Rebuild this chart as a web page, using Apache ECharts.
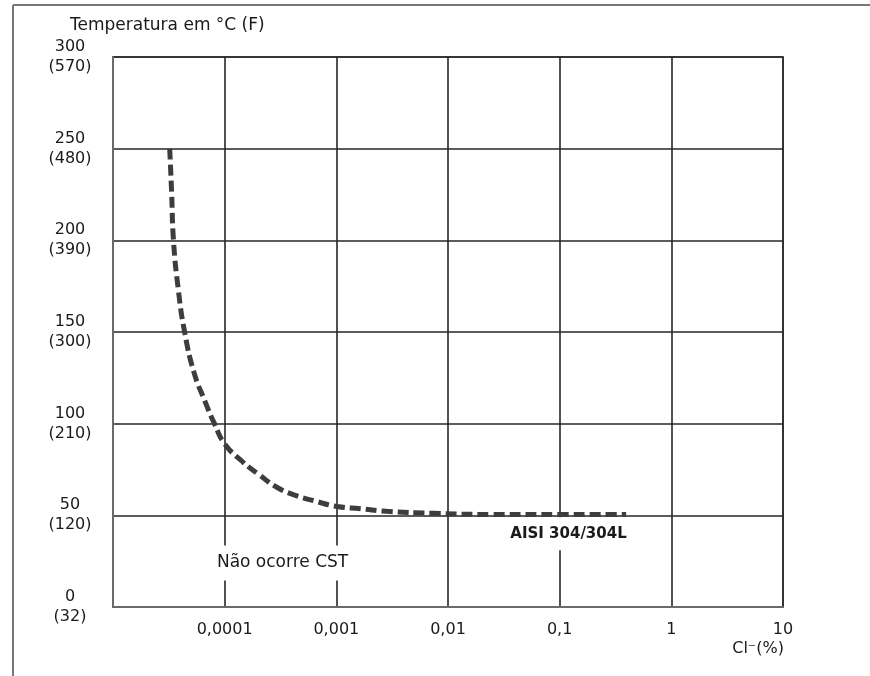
<!DOCTYPE html>
<html lang="pt-BR">
<head>
    <meta charset="UTF-8">
    <title>CST - AISI 304/304L</title>
    <script src="https://cdn.jsdelivr.net/npm/echarts@6/dist/echarts.min.js"></script>
    <style>
        html, body { margin: 0; padding: 0; background: #fff; }
        #main { width: 870px; height: 676px; }
    </style>
</head>
<body>
<div id="main"></div>

<script type="text/javascript">
    // teor de cloreto (%) e temperatura (°C)
    var cloreto = [3.22e-5, 3.35e-5, 3.48e-5, 3.83e-5, 4.38e-5, 5.31e-5, 6.68e-5, 8.1e-5, 1.0e-4,
        1.43e-4, 2.05e-4, 2.88e-4, 4.12e-4, 6.7e-4, 1.02e-3, 1.66e-3, 2.83e-3, 7.4e-3, 0.0248, 0.1, 0.394];
    var temperatura = [250, 226, 200, 174, 150, 128, 112, 100, 89,
        79.5, 72, 65.6, 61.3, 57.5, 54.8, 53.6, 52.2, 51.1, 50.5, 50.5, 50.5];

    var xTickLabels = ['', '0,0001', '0,001', '0,01', '0,1', '1', '10'];
    var yTickLabels = ['0\n(32)', '50\n(120)', '100\n(210)', '150\n(300)', '200\n(390)', '250\n(480)', '300\n(570)'];

    var fonte = 'DejaVu Sans';
    var myChart = echarts.init(document.getElementById('main'));

    var pontos = cloreto.map(function (c, i) { return [c, temperatura[i]]; });

    var option = {
        animation: false,
        backgroundColor: '#fff',
        title: [
            {
                text: 'Temperatura em °C (F)',
                left: 70, top: 17, padding: 0,
                textStyle: {fontFamily: fonte, fontSize: 17, fontWeight: 'normal', color: '#1a1a1a'}
            },
            {
                text: 'Cl⁻(%)',
                right: 86, top: 641, padding: 0,
                textStyle: {fontFamily: fonte, fontSize: 16, fontWeight: 'normal', color: '#1a1a1a'}
            }
        ],
        graphic: [
            {type: 'line', shape: {x1: 13, y1: 5, x2: 870, y2: 5}, style: {stroke: '#777', lineWidth: 2}},
            {type: 'line', shape: {x1: 13, y1: 5, x2: 13, y2: 676}, style: {stroke: '#777', lineWidth: 2}}
        ],
        grid: {
            left: 113, right: 87, top: 57, bottom: 69,
            show: true, borderColor: '#6a6a6a', borderWidth: 2
        },
        xAxis: {
            type: 'log',
            logBase: 10,
            min: 1e-5,
            max: 10,
            axisLine: {show: true, lineStyle: {color: '#6a6a6a', width: 2}},
            axisTick: {show: false},
            splitLine: {show: true, lineStyle: {color: '#262626', width: 1.6}},
            minorTick: {show: false},
            axisLabel: {
                margin: 15,
                fontFamily: fonte, fontSize: 16, color: '#1a1a1a',
                formatter: function (v) {
                    var i = Math.round(Math.log(v) / Math.LN10) + 5;
                    return xTickLabels[i] || '';
                }
            }
        },
        yAxis: {
            type: 'value',
            min: 0, max: 300, interval: 50,
            axisLine: {show: true, lineStyle: {color: '#6a6a6a', width: 2}},
            axisTick: {show: false},
            splitLine: {show: true, lineStyle: {color: '#262626', width: 1.6}},
            axisLabel: {
                margin: 43, align: 'center', lineHeight: 20,
                fontFamily: fonte, fontSize: 16, color: '#1a1a1a',
                formatter: function (v) { return yTickLabels[Math.round(v / 50)]; }
            }
        },
        series: [
            {
                type: 'line',
                data: pontos,
                smooth: 0.5,
                symbol: 'none',
                lineStyle: {color: '#3d3d3d', width: 5, type: [11, 5]},
                markPoint: {
                    symbol: 'rect',
                    symbolSize: 1,
                    itemStyle: {color: 'rgba(0,0,0,0)'},
                    label: {
                        show: true, position: 'inside',
                        backgroundColor: '#fff', padding: [9, 3],
                        fontFamily: fonte, color: '#1a1a1a'
                    },
                    data: [
                        {coord: [0.00033, 24], label: {formatter: 'Não ocorre CST', fontSize: 17}},
                        {coord: [0.12, 40], label: {formatter: 'AISI 304/304L', fontSize: 15, fontWeight: 'bold'}}
                    ]
                }
            }
        ]
    };

    myChart.setOption(option);
</script>
</body>
</html>
